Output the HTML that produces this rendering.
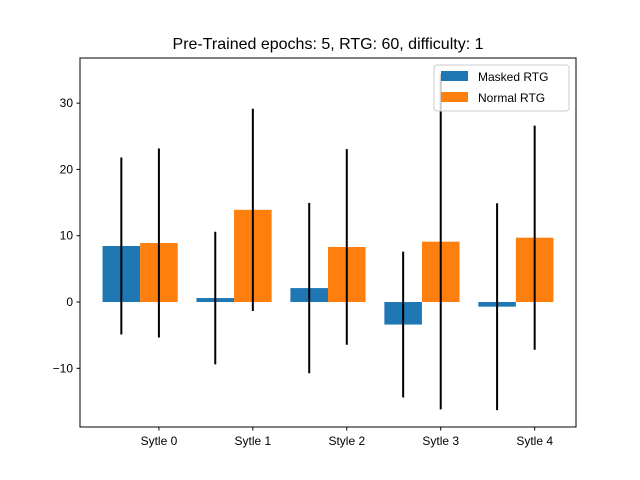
<!DOCTYPE html>
<html><head><meta charset="utf-8"><style>
body{margin:0;background:#fff;}
svg{display:block;font-family:"Liberation Sans","DejaVu Sans",sans-serif;}
</style></head><body>
<svg id="chart" width="640" height="480">
<text x="328" y="49" text-anchor="middle" font-size="16">Pre-Trained epochs: 5, RTG: 60, difficulty: 1</text>
<g id="plot"></g>
</svg>
<script>
const categories = ["Sytle 0","Sytle 1","Style 2","Sytle 3","Sytle 4"];
const maskedMeans = [8.45, 0.6, 2.1, -3.4, -0.7];
const maskedStd = [13.35, 10.0, 12.85, 11.0, 15.6];
const normalMeans = [8.9, 13.9, 8.3, 9.1, 9.7];
const normalStd = [14.25, 15.25, 14.75, 25.3, 16.9];
const yTicks = [-10, 0, 10, 20, 30];
const yTickLabels = ["\u221210","0","10","20","30"];

const L=80,R=576,T=58,B=427;
const xMin=-0.44,xMax=4.84,yMin=-18.85,yMax=36.8;
const xs=v=>L+(v-xMin)/(xMax-xMin)*(R-L);
const ys=v=>B-(v-yMin)/(yMax-yMin)*(B-T);
const NS="http://www.w3.org/2000/svg";
const g=document.getElementById('plot');
function mk(tag,attrs,parent){const e=document.createElementNS(NS,tag);for(const k in attrs)e.setAttribute(k,attrs[k]);(parent||g).appendChild(e);return e;}
const w=0.4;
function drawSeries(means,stds,off,color,name){
  means.forEach((m,i)=>{
    const x0=xs(i+off-w/2),x1=xs(i+off+w/2);
    const r=mk('rect',{x:x0,y:Math.min(ys(m),ys(0)),width:x1-x0,height:Math.abs(ys(m)-ys(0)),fill:color});
    
    
  });
}
function drawErr(means,stds,off,name){
  means.forEach((m,i)=>{
    const x=xs(i+off);
    const l=mk('line',{x1:x,x2:x,y1:ys(m-stds[i]),y2:ys(m+stds[i]),stroke:'#000','stroke-width':2});
    
    
  });
}
drawSeries(maskedMeans,maskedStd,0,'#1f77b4','masked');
drawSeries(normalMeans,normalStd,0.4,'#ff7f0e','normal');
drawErr(maskedMeans,maskedStd,0,'masked');
drawErr(normalMeans,normalStd,0.4,'normal');
// axes frame
const f=mk('rect',{x:L,y:T,width:R-L,height:B-T,fill:'none',stroke:'#000','stroke-width':1});


yTicks.forEach((t,i)=>{
  const y=ys(t);
  mk('line',{x1:L-3.5,x2:L,y1:y,y2:y,stroke:'#000'});
  const tx=mk('text',{x:L-7,y:y+4,'text-anchor':'end','font-size':12});
  tx.textContent=yTickLabels[i];
  
  
});
categories.forEach((c,i)=>{
  const x=xs(i+0.4);
  mk('line',{x1:x,x2:x,y1:B,y2:B+3.5,stroke:'#000'});
  const tx=mk('text',{x:x,y:B+18,'text-anchor':'middle','font-size':12});
  tx.textContent=c;
  
  
});
// legend
const lg=mk('g',{});


mk('rect',{x:434,y:65,width:135,height:46,rx:3,fill:'#fff','fill-opacity':0.8,stroke:'#ccc'},lg);
mk('rect',{x:441,y:71,width:27,height:10,fill:'#1f77b4'},lg);
mk('rect',{x:441,y:92,width:27,height:10,fill:'#ff7f0e'},lg);
const t1=mk('text',{x:478,y:81,'font-size':12},lg);t1.textContent='Masked RTG';


const t2=mk('text',{x:478,y:102,'font-size':12},lg);t2.textContent='Normal RTG';


</script>
</body></html>
